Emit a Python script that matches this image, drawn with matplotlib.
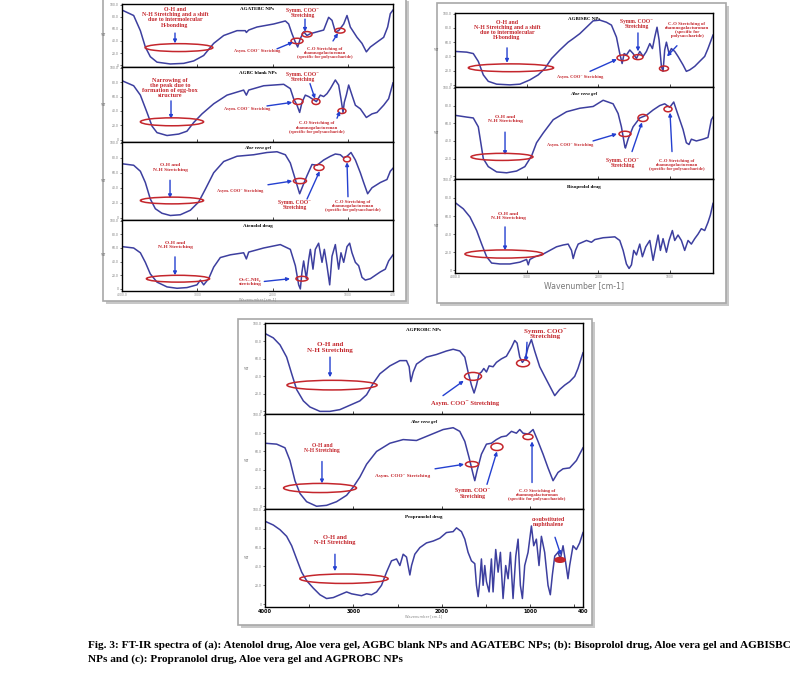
import matplotlib
matplotlib.use("Agg")
import matplotlib.pyplot as plt
from matplotlib.patches import Ellipse, Rectangle

W, H = 807, 676
SERIF = ['Liberation Serif', 'DejaVu Serif']
LINE = '#3d3f9f'
RED = '#c4262c'
BLUE = '#2440d0'

# ---- spectra: wavenumber (cm-1) and %T ----
# (a) AGATEBC NPs
agatebc_wn = [4000, 3845, 3756, 3690, 3624, 3535, 3358, 3181, 3048, 2915, 2782, 2649, 2472, 2362, 2348, 2317,
              2207, 1985, 1830, 1786, 1742, 1697, 1666, 1631, 1587, 1543, 1498, 1410, 1321, 1255, 1210, 1166,
              1122, 1055, 1011, 967, 878, 812, 754, 701, 613, 524, 471, 436, 400]
agatebc_t = [91, 82, 57, 30, 14, 5, 2, 3, 7, 16, 36, 49, 57, 57, 54, 58,
             63, 68, 73, 68, 52, 38, 30, 44, 55, 49, 52, 55, 58, 79, 74, 55,
             57, 68, 82, 63, 46, 36, 22, 30, 38, 46, 63, 85, 91]
# (a) AGBC blank NPs
agbc_wn = [4000, 3845, 3756, 3668, 3601, 3535, 3402, 3247, 3137, 3048, 2937, 2782, 2605, 2384, 2348, 2317,
           2118, 1852, 1764, 1720, 1675, 1640, 1609, 1565, 1520, 1476, 1418, 1365, 1321, 1277, 1232, 1166,
           1122, 1091, 1064, 1047, 1020, 989, 945, 900, 834, 754, 679, 613, 524, 458, 400]
agbc_t = [82, 75, 62, 38, 19, 10, 6, 8, 12, 24, 36, 50, 62, 69, 62, 69,
          75, 77, 71, 57, 48, 38, 52, 62, 60, 57, 53, 62, 60, 64, 71, 83,
          76, 57, 38, 52, 62, 76, 62, 48, 43, 31, 36, 38, 48, 57, 79]
# (a) Aloe vera gel
aloe_a_wn = [4000, 3845, 3756, 3690, 3624, 3557, 3469, 3358, 3225, 3092, 2982, 2893, 2782, 2649, 2472, 2251,
             2074, 1941, 1830, 1764, 1697, 1640, 1596, 1543, 1476, 1410, 1321, 1232, 1166, 1100, 1055, 1011,
             958, 900, 834, 790, 737, 679, 568, 480, 436, 400]
aloe_a_t = [72, 70, 62, 47, 25, 12, 6, 3, 4, 10, 21, 38, 60, 75, 82, 84,
            87, 88, 84, 73, 51, 32, 43, 56, 71, 70, 77, 82, 85, 84, 80, 82,
            87, 77, 60, 47, 32, 40, 47, 51, 62, 66]
# (a) Atenolol drug
aten_wn = [4000, 3845, 3756, 3690, 3624, 3535, 3402, 3269, 3137, 3004, 2959, 2915, 2849, 2782, 2694, 2561,
           2384, 2348, 2317, 2118, 1897, 1764, 1697, 1653, 1631, 1609, 1587, 1551, 1520, 1498, 1463, 1432,
           1388, 1343, 1312, 1277, 1241, 1210, 1166, 1122, 1091, 1055, 1011, 976, 945, 900, 856, 812,
           768, 701, 635, 568, 502, 458, 400]
aten_t = [62, 60, 53, 39, 22, 10, 3, 1, 2, 6, 13, 6, 15, 32, 46, 50,
          53, 44, 54, 60, 65, 58, 34, 6, 0, 25, 41, 15, 43, 58, 29, 58,
          67, 39, 58, 34, 6, 48, 65, 29, 53, 39, 62, 67, 53, 39, 34, 17,
          13, 15, 20, 25, 29, 41, 50]
# (b) AGBISBC NPs
agbisbc_wn = [4000, 3837, 3745, 3675, 3605, 3536, 3419, 3234, 3094, 2955, 2839, 2746, 2653, 2537, 2421, 2351,
              2258, 2165, 2072, 1979, 1887, 1817, 1747, 1701, 1668, 1640, 1608, 1561, 1515, 1468, 1422, 1375,
              1329, 1282, 1245, 1213, 1181, 1152, 1120, 1097, 1074, 1050, 1013, 981, 934, 888, 818, 772,
              725, 655, 586, 516, 470, 400]
agbisbc_t = [47, 46, 44, 33, 14, 5, 1, 0, 1, 7, 14, 23, 37, 49, 60, 65,
             72, 81, 90, 91, 88, 84, 67, 44, 30, 44, 42, 49, 44, 37, 47, 40,
             47, 58, 51, 67, 81, 63, 26, 19, 49, 60, 44, 51, 47, 40, 28, 19,
             21, 26, 33, 40, 51, 70]
# (b) Aloe vera gel
aloe_b_wn = [4000, 3837, 3745, 3675, 3605, 3536, 3419, 3280, 3141, 3025, 2932, 2862, 2769, 2630, 2444, 2258,
             2072, 1933, 1794, 1724, 1678, 1631, 1622, 1585, 1515, 1422, 1329, 1236, 1143, 1074, 1004, 948,
             911, 818, 772, 735, 702, 632, 540, 470, 423, 400]
aloe_b_t = [69, 67, 66, 56, 20, 11, 5, 4, 6, 11, 23, 38, 49, 64, 73, 77,
            79, 86, 82, 71, 56, 34, 32, 42, 56, 66, 69, 75, 80, 82, 78, 84,
            75, 53, 38, 36, 42, 40, 42, 44, 64, 67]
# (b) Bisoprolol drug
biso_wn = [4000, 3884, 3791, 3698, 3628, 3559, 3489, 3373, 3234, 3094, 3001, 2978, 2955, 2885, 2769, 2676,
           2583, 2490, 2421, 2374, 2351, 2319, 2281, 2165, 2096, 2049, 1933, 1770, 1701, 1654, 1608, 1571,
           1538, 1506, 1468, 1422, 1385, 1338, 1282, 1259, 1236, 1199, 1166, 1134, 1097, 1050, 1013, 967,
           934, 888, 841, 795, 748, 702, 655, 609, 563, 516, 470, 437, 400]
biso_t = [75, 68, 59, 44, 29, 15, 8, 7, 7, 9, 12, 6, 12, 15, 18, 22,
          26, 28, 29, 22, 13, 22, 29, 33, 31, 34, 36, 37, 33, 22, 7, 2,
          6, 22, 17, 29, 15, 26, 33, 22, 11, 26, 39, 22, 35, 20, 33, 44,
          33, 39, 33, 22, 33, 29, 35, 40, 46, 44, 53, 61, 74]
# (c) AGPROBC NPs
agprobc_wn = [4000, 3906, 3830, 3755, 3698, 3642, 3566, 3491, 3378, 3265, 3152, 3039, 2926, 2850, 2775, 2699,
              2586, 2473, 2398, 2368, 2349, 2322, 2285, 2172, 2059, 1946, 1870, 1795, 1738, 1701, 1663, 1633,
              1606, 1576, 1550, 1523, 1493, 1463, 1418, 1380, 1324, 1267, 1210, 1173, 1146, 1116, 1086, 1056,
              1022, 984, 947, 890, 834, 777, 720, 664, 607, 551, 494, 457, 400]
agprobc_t = [89, 84, 76, 62, 43, 25, 12, 5, 0, 0, 2, 7, 12, 19, 32, 43,
             52, 58, 58, 51, 34, 45, 54, 62, 65, 69, 71, 69, 62, 45, 30, 21,
             30, 43, 45, 49, 45, 52, 51, 56, 60, 63, 73, 81, 78, 62, 56, 60,
             73, 82, 69, 51, 40, 29, 18, 25, 30, 34, 40, 49, 67]
# (c) Aloe vera gel
aloe_c_wn = [4000, 3868, 3774, 3717, 3661, 3604, 3529, 3416, 3303, 3190, 3076, 3001, 2926, 2850, 2737, 2586,
             2436, 2285, 2134, 1983, 1870, 1795, 1738, 1689, 1644, 1625, 1599, 1550, 1493, 1437, 1380, 1324,
             1267, 1210, 1154, 1116, 1079, 1022, 965, 909, 852, 796, 739, 683, 626, 551, 475, 438, 400]
aloe_c_t = [69, 68, 64, 50, 28, 14, 5, 0, 1, 5, 12, 21, 32, 46, 60, 69,
            73, 72, 78, 84, 86, 82, 71, 53, 35, 28, 39, 57, 68, 69, 73, 76,
            77, 82, 80, 84, 80, 79, 84, 71, 57, 42, 28, 37, 41, 42, 50, 57, 64]
# (c) Propranolol drug
prop_wn = [4000, 3906, 3830, 3755, 3698, 3642, 3585, 3529, 3453, 3378, 3303, 3227, 3152, 3076, 3020, 2963,
           2907, 2850, 2794, 2737, 2681, 2624, 2568, 2511, 2473, 2436, 2398, 2360, 2341, 2304, 2247, 2172,
           2096, 2021, 1946, 1870, 1832, 1776, 1738, 1701, 1663, 1625, 1606, 1587, 1569, 1550, 1531, 1512,
           1493, 1463, 1437, 1418, 1388, 1361, 1335, 1305, 1275, 1248, 1222, 1192, 1161, 1135, 1109, 1086,
           1060, 1022, 984, 958, 928, 898, 871, 834, 796, 770, 747, 720, 683, 656, 626, 596,
           570, 551, 513, 475, 438, 400]
prop_t = [88, 84, 79, 72, 62, 48, 34, 25, 17, 10, 6, 7, 10, 13, 11, 10,
          9, 11, 10, 13, 20, 34, 46, 48, 41, 53, 50, 31, 41, 53, 60, 65,
          67, 70, 76, 77, 81, 77, 69, 55, 46, 43, 20, 8, 24, 48, 20, 41,
          24, 13, 48, 13, 58, 34, 55, 6, 41, 27, 55, 6, 51, 69, 20, 6,
          41, 55, 83, 62, 69, 41, 72, 55, 20, 10, 31, 51, 55, 48, 62, 44,
          27, 41, 62, 58, 65, 76]

x_ticks = [4000, 3000, 2000, 1000, 400]
y_ticks = [0, 20, 40, 60, 80, 100]

fig = plt.figure(figsize=(W / 100, H / 100), dpi=100)


def px_box(x0, y0, x1, y1):
    return [x0 / W, 1 - y1 / H, (x1 - x0) / W, (y1 - y0) / H]


def frame(x0, y0, x1, y1):
    # grey page-like border with a soft shadow round every panel
    sh = Rectangle((x0 / W + 0.004, 1 - y1 / H - 0.005), (x1 - x0) / W, (y1 - y0) / H,
                   transform=fig.transFigure, facecolor='#c8c8c8', edgecolor='none', zorder=-3)
    fr = Rectangle((x0 / W, 1 - y1 / H), (x1 - x0) / W, (y1 - y0) / H, transform=fig.transFigure,
                   facecolor='white', edgecolor='#a8a8a8', lw=1.2, zorder=-2)
    fig.patches.extend([sh, fr])


def spectrum(box, wn, t, title, italic=False, bottom=False):
    ax = fig.add_axes(px_box(*box))
    ax.plot(wn, t, color=LINE, lw=1.1)
    ax.set_xlim(4000, 400)
    ax.set_ylim(-3, 101)
    ax.set_xticks(x_ticks)
    ax.set_yticks(y_ticks)
    ax.set_yticklabels(['0', '20.0', '40.0', '60.0', '80.0', '100.0'], fontsize=2.2, color='#777777')
    ax.tick_params(axis='y', length=1.2, width=0.4, pad=1)
    ax.tick_params(axis='x', length=2, width=0.5, direction='in', pad=1.5)
    if not bottom:
        ax.set_xticklabels([])
    for s in ax.spines.values():
        s.set_linewidth(1.0)
    ax.set_ylabel('%T', fontsize=2.4, rotation=0, labelpad=5, color='#555555', va='center')
    ax.text(0.5, 0.92, title, transform=ax.transAxes, ha='center', va='center', fontsize=3.6,
            fontweight='bold', family=SERIF, style='italic' if italic else 'normal')
    return ax


def label(ax, wn, t, s, size=3.5):
    ax.text(wn, t, s, color=RED, fontsize=size, fontweight='bold', family=SERIF, ha='center',
            va='center', linespacing=1.05, clip_on=False, zorder=5)


def arrow(ax, wn0, t0, wn1, t1):
    ax.annotate('', xy=(wn1, t1), xytext=(wn0, t0),
                arrowprops=dict(arrowstyle='-|>', color=BLUE, lw=1.0, mutation_scale=5,
                                shrinkA=0, shrinkB=0), zorder=6)


def ring(ax, wn, t, w, h, filled=False):
    ax.add_patch(Ellipse((wn, t), w, h, fill=filled, edgecolor=RED, facecolor=RED,
                         lw=1.1, clip_on=False, zorder=6))


OH = 'O-H and\nN-H Stretching'
OH_SHIFT = 'O-H and\nN-H Stretching and a shift\ndue to intermolecular\nH-bonding'
SYMM = 'Symm. COO\u207b\nStretching'
ASYM = 'Asym. COO\u207b Stretching'
CO = 'C-O Stretching of\nrhamnogalacturonan\n(specific for polysaccharide)'

# ================= panel (a) =================
frame(103, -2, 406, 301)
ax = spectrum((122, 4, 393, 67), agatebc_wn, agatebc_t, 'AGATEBC NPs')
label(ax, 3296, 79, OH_SHIFT, 4.2)
arrow(ax, 3296, 53, 3296, 36)
ring(ax, 3243, 29, 900, 13)
label(ax, 1596, 86, SYMM, 4.0)
arrow(ax, 1569, 76, 1569, 55)
ring(ax, 1542, 51, 133, 9)
ring(ax, 1675, 40, 160, 9)
label(ax, 2207, 24, ASYM, 3.2)
arrow(ax, 1941, 27, 1728, 38)
ring(ax, 1104, 57, 133, 8)
label(ax, 1303, 20, CO, 3.3)
arrow(ax, 1197, 40, 1131, 53)

ax = spectrum((122, 67, 393, 142), agbc_wn, agbc_t, 'AGBC blank NPs')
label(ax, 3362, 72, 'Narrowing of\nthe peak due to\nformation of egg-box\nstructure', 4.4)
arrow(ax, 3349, 54, 3349, 29)
ring(ax, 3336, 25, 840, 11)
label(ax, 1596, 87, SYMM, 4.0)
arrow(ax, 1503, 78, 1436, 57)
ring(ax, 1423, 53, 106, 8)
ring(ax, 1662, 53, 133, 8)
label(ax, 2340, 43, ASYM, 3.2)
arrow(ax, 2074, 47, 1738, 52)
ring(ax, 1078, 40, 106, 7)
label(ax, 1410, 17, CO, 3.3)
arrow(ax, 1144, 30, 1104, 40)

ax = spectrum((122, 142, 393, 220), aloe_a_wn, aloe_a_t, 'Aloe vera gel', italic=True)
label(ax, 3362, 67, OH, 3.9)
arrow(ax, 3362, 50, 3362, 26)
ring(ax, 3336, 23, 840, 9)
label(ax, 2432, 36, ASYM, 3.2)
arrow(ax, 2061, 44, 1738, 49)
ring(ax, 1636, 49, 173, 7)
ring(ax, 1383, 67, 133, 8)
label(ax, 1702, 17, SYMM, 4.0)
arrow(ax, 1542, 25, 1375, 62)
ring(ax, 1011, 78, 93, 7)
label(ax, 931, 16, CO, 3.3)
arrow(ax, 998, 28, 1011, 74)

ax = spectrum((122, 220, 393, 291), aten_wn, aten_t, 'Atenolol drug', bottom=True)
ax.set_xticklabels(['4000.0', '3000', '2000', '1000', '400'], fontsize=2.2, color='#888888')
ax.set_xlabel('Wavenumber [cm-1]', fontsize=2.6, color='#888888', labelpad=0.5)
label(ax, 3296, 65, OH, 3.9)
arrow(ax, 3296, 47, 3296, 20)
ring(ax, 3256, 15, 840, 10)
label(ax, 2300, 10, 'O=C-NH\u2082\nstretching', 3.9)
arrow(ax, 2110, 11, 1768, 15)
ring(ax, 1609, 15, 160, 7)

# ================= panel (b) =================
frame(437, 3, 726, 303)
ax = spectrum((455, 13, 713, 87), agbisbc_wn, agbisbc_t, 'AGBISBC NPs')
label(ax, 3274, 77, OH_SHIFT, 4.2)
arrow(ax, 3274, 52, 3274, 31)
ring(ax, 3219, 24, 1190, 11)
label(ax, 1461, 86, SYMM, 4.0)
arrow(ax, 1447, 73, 1447, 47)
ring(ax, 1656, 38, 167, 8)
ring(ax, 1447, 39, 140, 7)
label(ax, 2256, 11, ASYM, 3.2)
arrow(ax, 2116, 19, 1740, 36)
ring(ax, 1084, 23, 126, 7)
label(ax, 763, 77, 'C-O Stretching of\nrhamnogalacturonan\n(specific for\npolysaccharide)', 3.5)
arrow(ax, 903, 55, 1042, 40)

ax = spectrum((455, 87, 713, 179), aloe_b_wn, aloe_b_t, 'Aloe vera gel', italic=True)
label(ax, 3302, 65, OH, 3.9)
arrow(ax, 3302, 50, 3302, 24)
ring(ax, 3344, 22, 865, 8)
label(ax, 2395, 35, ASYM, 3.2)
arrow(ax, 2074, 40, 1740, 48)
ring(ax, 1628, 48, 167, 6)
ring(ax, 1377, 66, 140, 8)
label(ax, 1656, 15, SYMM, 4.0)
arrow(ax, 1530, 28, 1391, 61)
ring(ax, 1028, 76, 112, 6)
label(ax, 903, 13, CO, 3.3)
arrow(ax, 972, 28, 1000, 72)

ax = spectrum((455, 179, 713, 273), biso_wn, biso_t, 'Bisoprolol drug', bottom=True)
ax.set_xticklabels(['4000.0', '3000', '2000', '1000', ''], fontsize=2.2, color='#777777')
ax.set_xlabel('Wavenumber [cm-1]', fontsize=5.6, color='#777777', labelpad=1.5)
label(ax, 3260, 60, OH, 3.9)
arrow(ax, 3302, 48, 3302, 22)
ring(ax, 3316, 18, 1090, 9)

# ================= panel (c) =================
frame(238, 319, 592, 625)
ax = spectrum((265, 323, 583, 414), agprobc_wn, agprobc_t, 'AGPROBC NPs')
label(ax, 3264, 73, OH, 5.0)
arrow(ax, 3264, 62, 3264, 39)
ring(ax, 3241, 30, 1020, 11)
label(ax, 830, 89, SYMM, 5.0)
arrow(ax, 1034, 79, 1045, 57)
ring(ax, 1079, 55, 147, 8)
ring(ax, 1645, 40, 192, 9)
label(ax, 1736, 9, ASYM, 4.7)
arrow(ax, 1985, 18, 1750, 35)

ax = spectrum((265, 414, 583, 509), aloe_c_wn, aloe_c_t, 'Aloe vera gel', italic=True)
label(ax, 3355, 64, OH, 4.0)
arrow(ax, 3355, 49, 3355, 25)
ring(ax, 3377, 20, 826, 10)
label(ax, 2438, 33, ASYM, 3.8)
arrow(ax, 2075, 41, 1746, 46)
ring(ax, 1657, 46, 147, 6)
ring(ax, 1374, 65, 136, 8)
label(ax, 1645, 14, SYMM, 4.2)
arrow(ax, 1487, 24, 1374, 60)
ring(ax, 1023, 76, 113, 6)
label(ax, 921, 12, CO, 3.4)
arrow(ax, 977, 26, 977, 71)

ax = spectrum((265, 509, 583, 607), prop_wn, prop_t, 'Propranolol drug', bottom=True)
ax.set_xticks([3500, 2500, 1500, 500], minor=True)
ax.tick_params(axis='x', which='minor', length=2, width=0.5, direction='in')
ax.set_xticklabels(['4000', '3000', '2000', '1000', '400'], fontsize=3.6, fontweight='bold')
ax.set_xlabel('Wavenumber [cm-1]', fontsize=2.6, color='#888888', labelpad=0)
label(ax, 3208, 68, OH, 4.6)
arrow(ax, 3208, 53, 3208, 35)
ring(ax, 3106, 27, 1000, 10)
label(ax, 796, 87, '\u03b1-substituted\nnaphthalene', 4.2)
arrow(ax, 717, 71, 650, 52)
ring(ax, 660, 47, 113, 5, filled=True)

# ================= caption =================
cap_kw = dict(fontsize=8.1, fontweight='bold', family=SERIF, va='baseline', ha='left')
fig.text(88 / W, 1 - 648 / H,
         'Fig. 3: FT-IR spectra of (a): Atenolol drug, Aloe vera gel, AGBC blank NPs and AGATEBC NPs; '
         '(b): Bisoprolol drug, Aloe vera gel and AGBISBC', **cap_kw)
fig.text(88 / W, 1 - 662 / H, 'NPs and (c): Propranolol drug, Aloe vera gel and AGPROBC NPs', **cap_kw)

fig.savefig('out.png', dpi=100)
